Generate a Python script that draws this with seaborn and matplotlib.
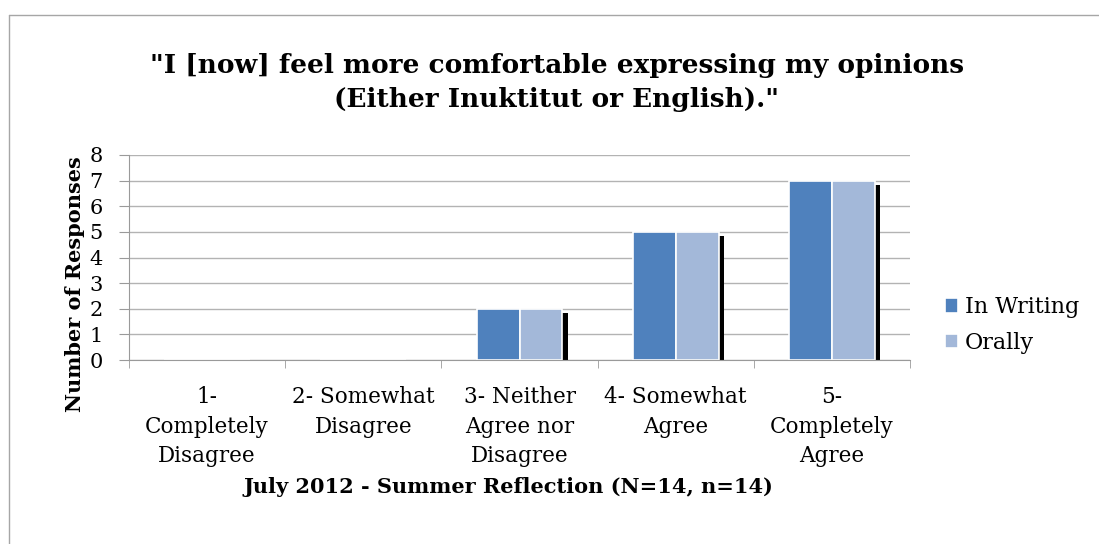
import matplotlib
matplotlib.use("Agg")
import matplotlib.pyplot as plt
import matplotlib.patheffects as pe
from matplotlib.lines import Line2D
import seaborn as sns
import pandas as pd
import numpy as np

categories = ["1-\nCompletely\nDisagree", "2- Somewhat\nDisagree", "3- Neither\nAgree nor\nDisagree",
              "4- Somewhat\nAgree", "5-\nCompletely\nAgree"]
in_writing = [0, 0, 2, 5, 7]
orally = [0, 0, 2, 5, 7]
series = ["In Writing", "Orally"]
colors = ["#4F81BD", "#A3B8D9"]
title = '"I [now] feel more comfortable expressing my opinions\n(Either Inuktitut or English)."'
xlabel = "July 2012 - Summer Reflection (N=14, n=14)"
ylabel = "Number of Responses"

df = pd.DataFrame({
    "cat": categories * 2,
    "val": in_writing + orally,
    "series": [series[0]] * 5 + [series[1]] * 5,
})

sns.set_style("white")
plt.rcParams["font.family"] = ["DejaVu Serif"]
plt.rcParams["text.color"] = "black"
plt.rcParams["xtick.color"] = "black"
plt.rcParams["ytick.color"] = "black"
plt.rcParams["axes.labelcolor"] = "black"

W, H = 1099, 544
fig = plt.figure(figsize=(W / 100, H / 100), dpi=100)
ax = fig.add_axes([129 / W, 1 - 360 / H, (910 - 129) / W, (360 - 155) / H])

sns.barplot(data=df, x="cat", y="val", hue="series", palette=colors, width=0.55,
            ax=ax, edgecolor="white", linewidth=1.2, saturation=1, legend=True)

for p in ax.patches:
    if p.get_height() > 0:
        p.set_path_effects([pe.SimplePatchShadow(offset=(4.0, -3.0), shadow_rgbFace="black", alpha=1.0),
                            pe.Normal()])

ax.set_ylim(0, 8)
ax.set_xlim(-0.5, 4.5)
ax.set_yticks(range(0, 9))
ax.yaxis.grid(True, color="#b3b3b3", linewidth=1)
ax.set_axisbelow(True)
for s in ["top", "right"]:
    ax.spines[s].set_visible(False)
ax.spines["left"].set_color("#9a9a9a")
ax.spines["bottom"].set_color("#9a9a9a")

ax.tick_params(axis="y", labelsize=15, length=7, color="#9a9a9a", left=True, pad=12)
ax.set_xticks(range(5))
ax.set_xticklabels(categories, fontsize=15.5, linespacing=1.42)
ax.tick_params(axis="x", length=0, pad=19)
ax.set_xticks(np.arange(-0.5, 5, 1), minor=True)
ax.tick_params(axis="x", which="minor", length=6, color="#9a9a9a", bottom=True)

ax.set_xlabel("")
ax.set_ylabel("")
fig.text(75 / W, 1 - 284 / H, ylabel, rotation=90, fontsize=15, fontweight="bold",
         ha="center", va="center")
fig.text(508 / W, 1 - 487 / H, xlabel, fontsize=15, fontweight="bold", ha="center", va="center")
fig.text(557 / W, 1 - 83 / H, title, fontsize=19, fontweight="bold", ha="center", va="center",
         linespacing=1.45, multialignment="center")

handles, labels = ax.get_legend_handles_labels()
ax.legend(handles, labels, loc="center left", bbox_to_anchor=(945 / W, 1 - 325 / H),
          bbox_transform=fig.transFigure, frameon=False,
          fontsize=16, handlelength=0.6, handleheight=0.6, handletextpad=0.3, labelspacing=0.6,
          borderpad=0, borderaxespad=0)

# chart-area border (top and left edges visible)
fig.add_artist(Line2D([9 / W, 9 / W], [0, 1 - 15 / H], transform=fig.transFigure, color="#a6a6a6", lw=1))
fig.add_artist(Line2D([9 / W, 1], [1 - 15 / H, 1 - 15 / H], transform=fig.transFigure, color="#a6a6a6", lw=1))

fig.savefig("out.png", dpi=100)
